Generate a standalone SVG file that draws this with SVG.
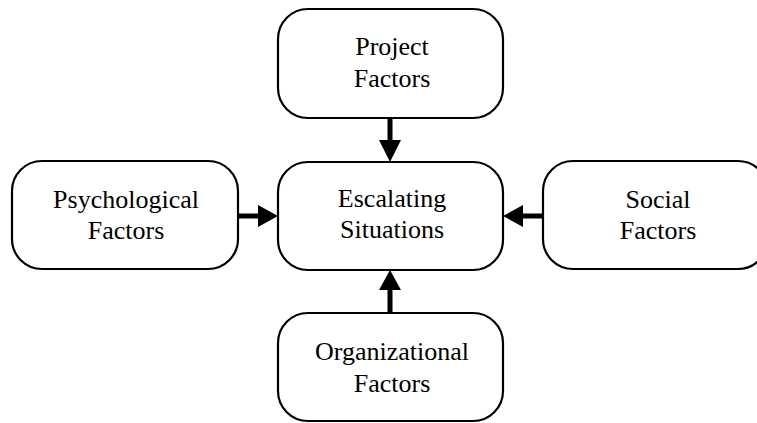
<svg xmlns="http://www.w3.org/2000/svg" width="757" height="423" viewBox="0 0 757 423">
<style>
.box{fill:#fff;stroke:#000;stroke-width:2.2}
.t{font-family:"Liberation Serif","Times New Roman",serif;font-size:26px;fill:#000;text-anchor:middle}
.c{stroke:#000;stroke-width:5;fill:none}
</style>
<defs>
<marker id="ah" markerWidth="20" markerHeight="22" refX="20" refY="11" orient="auto" markerUnits="userSpaceOnUse">
<path d="M0,0 L20,11 L0,22 Z" fill="#000"/>
</marker>
</defs>
<g id="connectors">
<line class="c" x1="390" y1="118" x2="390" y2="142"/>
<path d="M379,140 L401,140 L390,162 Z" fill="#000"/>
<line class="c" x1="238" y1="216" x2="260" y2="216"/>
<path d="M258,205 L258,227 L278,216 Z" fill="#000"/>
<line class="c" x1="543" y1="216" x2="521" y2="216"/>
<path d="M523,205 L523,227 L503,216 Z" fill="#000"/>
<line class="c" x1="390" y1="313" x2="390" y2="288"/>
<path d="M379,290 L401,290 L390,270 Z" fill="#000"/>
</g>
<g id="project">
<rect class="box" x="278" y="9" width="225" height="109" rx="30" ry="30"/>
<text class="t" x="392" y="55">Project</text>
<text class="t" x="392" y="87">Factors</text>
</g>
<g id="escalating">
<rect class="box" x="278" y="162" width="225" height="108" rx="30" ry="30"/>
<text class="t" x="392" y="207">Escalating</text>
<text class="t" x="392" y="238">Situations</text>
</g>
<g id="psychological">
<rect class="box" x="12" y="161" width="226" height="108" rx="30" ry="30"/>
<text class="t" x="126" y="208">Psychological</text>
<text class="t" x="126" y="239">Factors</text>
</g>
<g id="social">
<rect class="box" x="543" y="161" width="225" height="108" rx="30" ry="30"/>
<text class="t" x="658" y="208">Social</text>
<text class="t" x="658" y="239">Factors</text>
</g>
<g id="organizational">
<rect class="box" x="278" y="313" width="225" height="108" rx="30" ry="30"/>
<text class="t" x="392" y="360">Organizational</text>
<text class="t" x="392" y="392">Factors</text>
</g>
</svg>
